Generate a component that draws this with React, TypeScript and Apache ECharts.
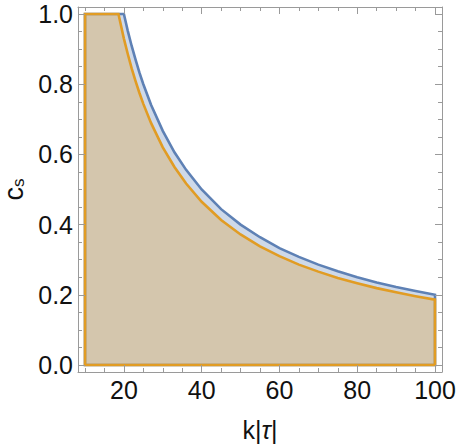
import React, { useEffect, useRef } from "react";
import * as echarts from "echarts";

// Region bounds
const kRange = [10, 100];
const cRange = [0, 1];

// Blue boundary curve (upper region)
const blueK = [20, 21, 22, 23, 24, 25, 27, 30, 33, 36, 40, 45, 50, 55, 60, 65, 70, 75, 80, 85, 90, 95, 100];
const blueC = [1, 0.952, 0.909, 0.87, 0.833, 0.8, 0.741, 0.667, 0.606, 0.556, 0.5, 0.444, 0.4, 0.364, 0.333, 0.308, 0.286, 0.267, 0.25, 0.235, 0.222, 0.211, 0.2];

// Orange boundary curve (lower region)
const orangeK = [18.6, 20, 21, 22, 23, 24, 25, 27, 30, 33, 36, 40, 45, 50, 55, 60, 65, 70, 75, 80, 85, 90, 95, 100];
const orangeC = [1, 0.93, 0.886, 0.845, 0.809, 0.775, 0.744, 0.689, 0.62, 0.564, 0.517, 0.465, 0.413, 0.372, 0.338, 0.31, 0.286, 0.266, 0.248, 0.233, 0.219, 0.207, 0.196, 0.186];

// Tick values
const xMajorTicks = [20, 40, 60, 80, 100];
const xMinorTicks = [10, 15, 25, 30, 35, 45, 50, 55, 65, 70, 75, 85, 90, 95];
const yMajorTicks = [0, 0.2, 0.4, 0.6, 0.8, 1.0];
const yMinorTicks = [0.05, 0.1, 0.15, 0.25, 0.3, 0.35, 0.45, 0.5, 0.55, 0.65, 0.7, 0.75, 0.85, 0.9, 0.95];

const FRAME = "#9a9a9a";
const FONT = "Liberation Sans";

function regionPoints(curveK: number[], curveC: number[]) {
  const pts: number[][] = [[kRange[0], cRange[0]], [kRange[0], cRange[1]]];
  curveK.forEach((k, i) => pts.push([k, curveC[i]]));
  pts.push([kRange[1], cRange[0]]);
  return pts;
}

export default function App() {
  const ref = useRef<HTMLDivElement>(null);
  useEffect(() => {
    if (!ref.current) return;
    const chart = echarts.init(ref.current, undefined, { renderer: "svg" });
    const padX = (kRange[1] - kRange[0]) * 0.02;
    const padY = (cRange[1] - cRange[0]) * 0.02;
    const xBase = {
      type: "value",
      min: kRange[0] - padX,
      max: kRange[1] + padX,
      splitLine: { show: false },
      z: 10,
    };
    const yBase = {
      type: "value",
      min: cRange[0] - padY,
      max: cRange[1] + padY,
      splitLine: { show: false },
      z: 10,
    };
    const mkX = (position: string, ticks: number[], len: number, labels: boolean, line: boolean) => ({
      ...xBase,
      position,
      axisLine: { show: line, onZero: false, lineStyle: { color: FRAME, width: 1 } },
      axisTick: { show: true, inside: true, length: len, customValues: ticks, lineStyle: { color: FRAME, width: 1 } },
      axisLabel: labels
        ? { show: true, customValues: xMajorTicks, color: "#111", fontSize: 25, fontFamily: FONT, margin: 5, formatter: (v: number) => String(v) }
        : { show: false },
      ...(labels
        ? {
            name: "k|{t|τ}|",
            nameLocation: "middle",
            nameGap: 45,
            nameTextStyle: {
              color: "#111",
              fontSize: 25,
              fontFamily: FONT,
              rich: { t: { fontSize: 25, fontStyle: "italic", fontFamily: FONT, color: "#111" } },
            },
          }
        : {}),
    });
    const mkY = (position: string, ticks: number[], len: number, labels: boolean, line: boolean) => ({
      ...yBase,
      position,
      axisLine: { show: line, onZero: false, lineStyle: { color: FRAME, width: 1 } },
      axisTick: { show: true, inside: true, length: len, customValues: ticks, lineStyle: { color: FRAME, width: 1 } },
      axisLabel: labels
        ? { show: true, customValues: yMajorTicks, color: "#111", fontSize: 25, fontFamily: FONT, margin: 5, formatter: (v: number) => v.toFixed(1) }
        : { show: false },
      ...(labels
        ? {
            name: "{c|c}{s|s}",
            nameLocation: "middle",
            nameRotate: 90,
            nameGap: 47,
            nameTextStyle: {
              rich: {
                c: { fontSize: 27, fontFamily: FONT, color: "#111" },
                s: { fontSize: 17, fontFamily: FONT, color: "#111", verticalAlign: "bottom", padding: [6, 0, 0, 0] },
              },
            },
          }
        : {}),
    });

    const bluePts = regionPoints(blueK, blueC);
    const orangePts = regionPoints(orangeK, orangeC);

    const polySeries = (name: string, pts: number[][], stroke: string, fill: string) => ({
      type: "custom",
      name,
      xAxisIndex: 0,
      yAxisIndex: 0,
      z: 2,
      data: [[pts[0][0], pts[0][1]]],
      renderItem: (_params: any, api: any) => ({
        type: "polygon",
        shape: { points: pts.map((p) => api.coord(p)) },
        style: { fill, stroke, lineWidth: 2.6, lineJoin: "miter" },
      }),
      silent: true,
    });

    chart.setOption({
      animation: false,
      grid: { left: 78, right: 15, top: 7, bottom: 75, containLabel: false, outerBoundsMode: "none" },
      xAxis: [
        mkX("bottom", xMajorTicks, 7, true, true),
        mkX("bottom", xMinorTicks, 4, false, false),
        mkX("top", xMajorTicks, 7, false, true),
        mkX("top", xMinorTicks, 4, false, false),
      ],
      yAxis: [
        mkY("left", yMajorTicks, 7, true, true),
        mkY("left", yMinorTicks, 4, false, false),
        mkY("right", yMajorTicks, 7, false, true),
        mkY("right", yMinorTicks, 4, false, false),
      ],
      series: [
        polySeries("blue", bluePts, "#5E81B5", "rgba(94,129,181,0.3)"),
        polySeries("orange", orangePts, "#E19C24", "rgba(225,156,36,0.3)"),
      ],
    });
    return () => chart.dispose();
  }, []);
  return (
    <div
      ref={ref}
      style={{ position: "fixed", left: 0, top: 0, width: 457, height: 447, background: "#fff" }}
    />
  );
}
